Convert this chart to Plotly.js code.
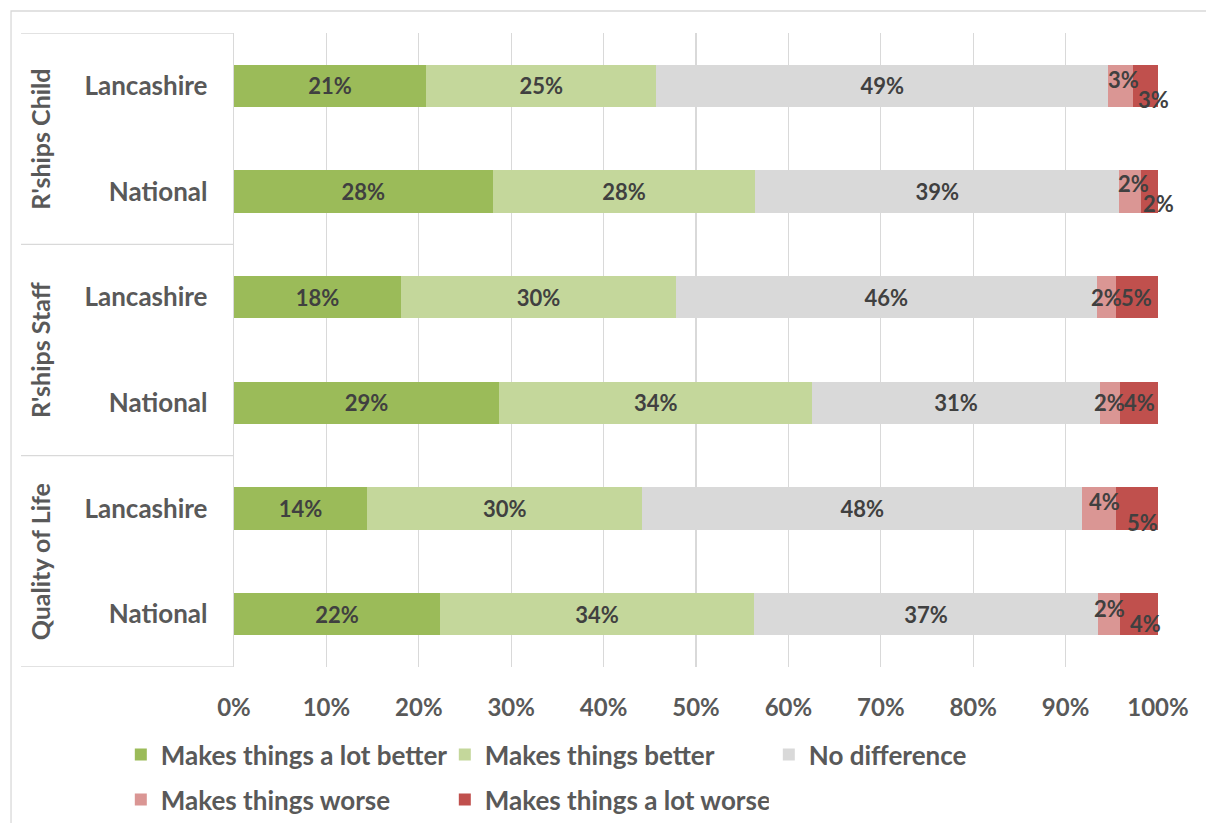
<!DOCTYPE html>
<html>
<head>
<meta charset="utf-8">
<script src="https://cdn.plot.ly/plotly-3.0.1.min.js"></script>
<style>html,body{margin:0;padding:0;background:#fff}#chart{width:1206px;height:823px}</style>
</head>
<body>
<div id="chart"></div>
<script>
// ---- data ----
var rowLabels = ["Lancashire", "National", "Lancashire", "National", "Lancashire", "National"];
var groupLabels = ["R'ships Child", "R'ships Staff", "Quality of Life"];
var seriesNames = ["Makes things a lot better", "Makes things better", "No difference", "Makes things worse", "Makes things a lot worse"];
var lotBetter = [20.8, 28.0, 18.1, 28.7, 14.4, 22.3];
var better    = [24.9, 28.4, 29.7, 33.9, 29.8, 34.0];
var noDiff    = [48.9, 39.4, 45.6, 31.1, 47.6, 37.2];
var worse     = [2.7, 2.4, 2.0, 2.2, 3.6, 2.4];
var lotWorse  = [2.7, 1.8, 4.6, 4.1, 4.6, 4.1];
var xTicks = [0, 10, 20, 30, 40, 50, 60, 70, 80, 90, 100];

// ---- styles ----
var colors = ["#9BBB59", "#C4D79B", "#D9D9D9", "#DA9694", "#C0504D"];
var FONT = "Lato, 'Open Sans', sans-serif";
var labelColor = "#404040";
var axisColor = "#595959";
var lineColor = "#D9D9D9";
// label offsets (px) for the small red segments, Excel-like collision avoidance
var worseShift    = [[3, 6], [3, 8], [0, 0], [0, 0], [6, 7], [0, 6]];
var lotWorseShift = [[8, -14], [9, -12], [0, 0], [0, 0], [6, -14], [6, -9]];

var seriesVals = [lotBetter, better, noDiff, worse, lotWorse];
var yIdx = rowLabels.map(function (_, i) { return i; });

var traces = seriesVals.map(function (vals, s) {
  var inside = s < 3;
  return {
    type: "bar",
    orientation: "h",
    name: seriesNames[s],
    legend: s < 3 ? "legend" : "legend2",
    x: vals,
    y: yIdx,
    width: 0.4,
    marker: { color: colors[s], line: { width: 0 } },
    text: vals.map(function (v) { return Math.round(v) + "%"; }),
    texttemplate: inside ? "%{text}" : "",
    textposition: inside ? "inside" : "none",
    insidetextanchor: "middle",
    textangle: 0,
    constraintext: "none",
    textfont: { family: FONT, size: 22, color: labelColor, weight: 700 },
    hoverinfo: "skip"
  };
});

var annotations = [];
// labels for small segments
[3, 4].forEach(function (s) {
  var shifts = s === 3 ? worseShift : lotWorseShift;
  seriesVals[s].forEach(function (v, i) {
    var start = 0;
    for (var k = 0; k < s; k++) start += seriesVals[k][i];
    annotations.push({
      x: start + v / 2, y: i, xref: "x", yref: "y",
      text: Math.round(v) + "%", showarrow: false,
      xshift: shifts[i][0], yshift: shifts[i][1],
      font: { family: FONT, size: 22, color: labelColor, weight: 700 }
    });
  });
});
// group labels
groupLabels.forEach(function (g, gi) {
  annotations.push({
    x: -0.21, xref: "paper", xanchor: "center",
    y: gi * 2 + 0.5, yref: "y", yanchor: "middle",
    text: g, textangle: -90, showarrow: false,
    font: { family: FONT, size: 25, color: axisColor, weight: 700 }
  });
});

var shapes = [];
// group dividers
for (var d = 0; d <= groupLabels.length; d++) {
  shapes.push({
    type: "line", xref: "paper", yref: "y",
    x0: -0.2305, x1: 0, y0: d * 2 - 0.5, y1: d * 2 - 0.5,
    line: { color: lineColor, width: 1.3 }
  });
}
// outer frame
shapes.push({
  type: "rect", xref: "paper", yref: "paper",
  x0: -0.2413, x1: 1.2, y0: -0.5, y1: 1.0347,
  line: { color: lineColor, width: 1.3 }, fillcolor: "rgba(0,0,0,0)", layer: "below"
});

var legendBase = {
  orientation: "h",
  x: -0.1225, xanchor: "left",
  yanchor: "top",
  entrywidth: 279, entrywidthmode: "pixels",
  traceorder: "normal",
  font: { family: FONT, size: 26, color: axisColor, weight: 700 },
  bgcolor: "rgba(0,0,0,0)"
};

var layout = {
  width: 1206, height: 823,
  margin: { l: 234, r: 48, t: 33, b: 156, autoexpand: false },
  paper_bgcolor: "#fff", plot_bgcolor: "#fff",
  barmode: "stack",
  showlegend: true,
  font: { family: FONT, color: axisColor },
  xaxis: {
    range: [0, 100],
    tickvals: xTicks,
    ticktext: xTicks.map(function (t) { return t + "%"; }),
    showgrid: true, gridcolor: lineColor, gridwidth: 1.3,
    zeroline: false, showline: false,
    ticks: "", ticklabelstandoff: 24,
    tickfont: { family: FONT, size: 24, color: axisColor, weight: 700 },
    fixedrange: true
  },
  yaxis: {
    range: [5.5, -0.5],
    tickvals: yIdx,
    ticktext: rowLabels,
    showgrid: false, zeroline: false,
    showline: true, linecolor: lineColor, linewidth: 1.3,
    ticks: "", ticklabelstandoff: 20,
    tickfont: { family: FONT, size: 26, color: axisColor, weight: 700 },
    fixedrange: true
  },
  legend: Object.assign({}, legendBase, { y: -0.101 }),
  legend2: Object.assign({}, legendBase, { y: -0.172 }),
  annotations: annotations,
  shapes: shapes,
  hovermode: false
};

Plotly.newPlot("chart", traces, layout, { displayModeBar: false, staticPlot: true });
</script>
</body>
</html>
